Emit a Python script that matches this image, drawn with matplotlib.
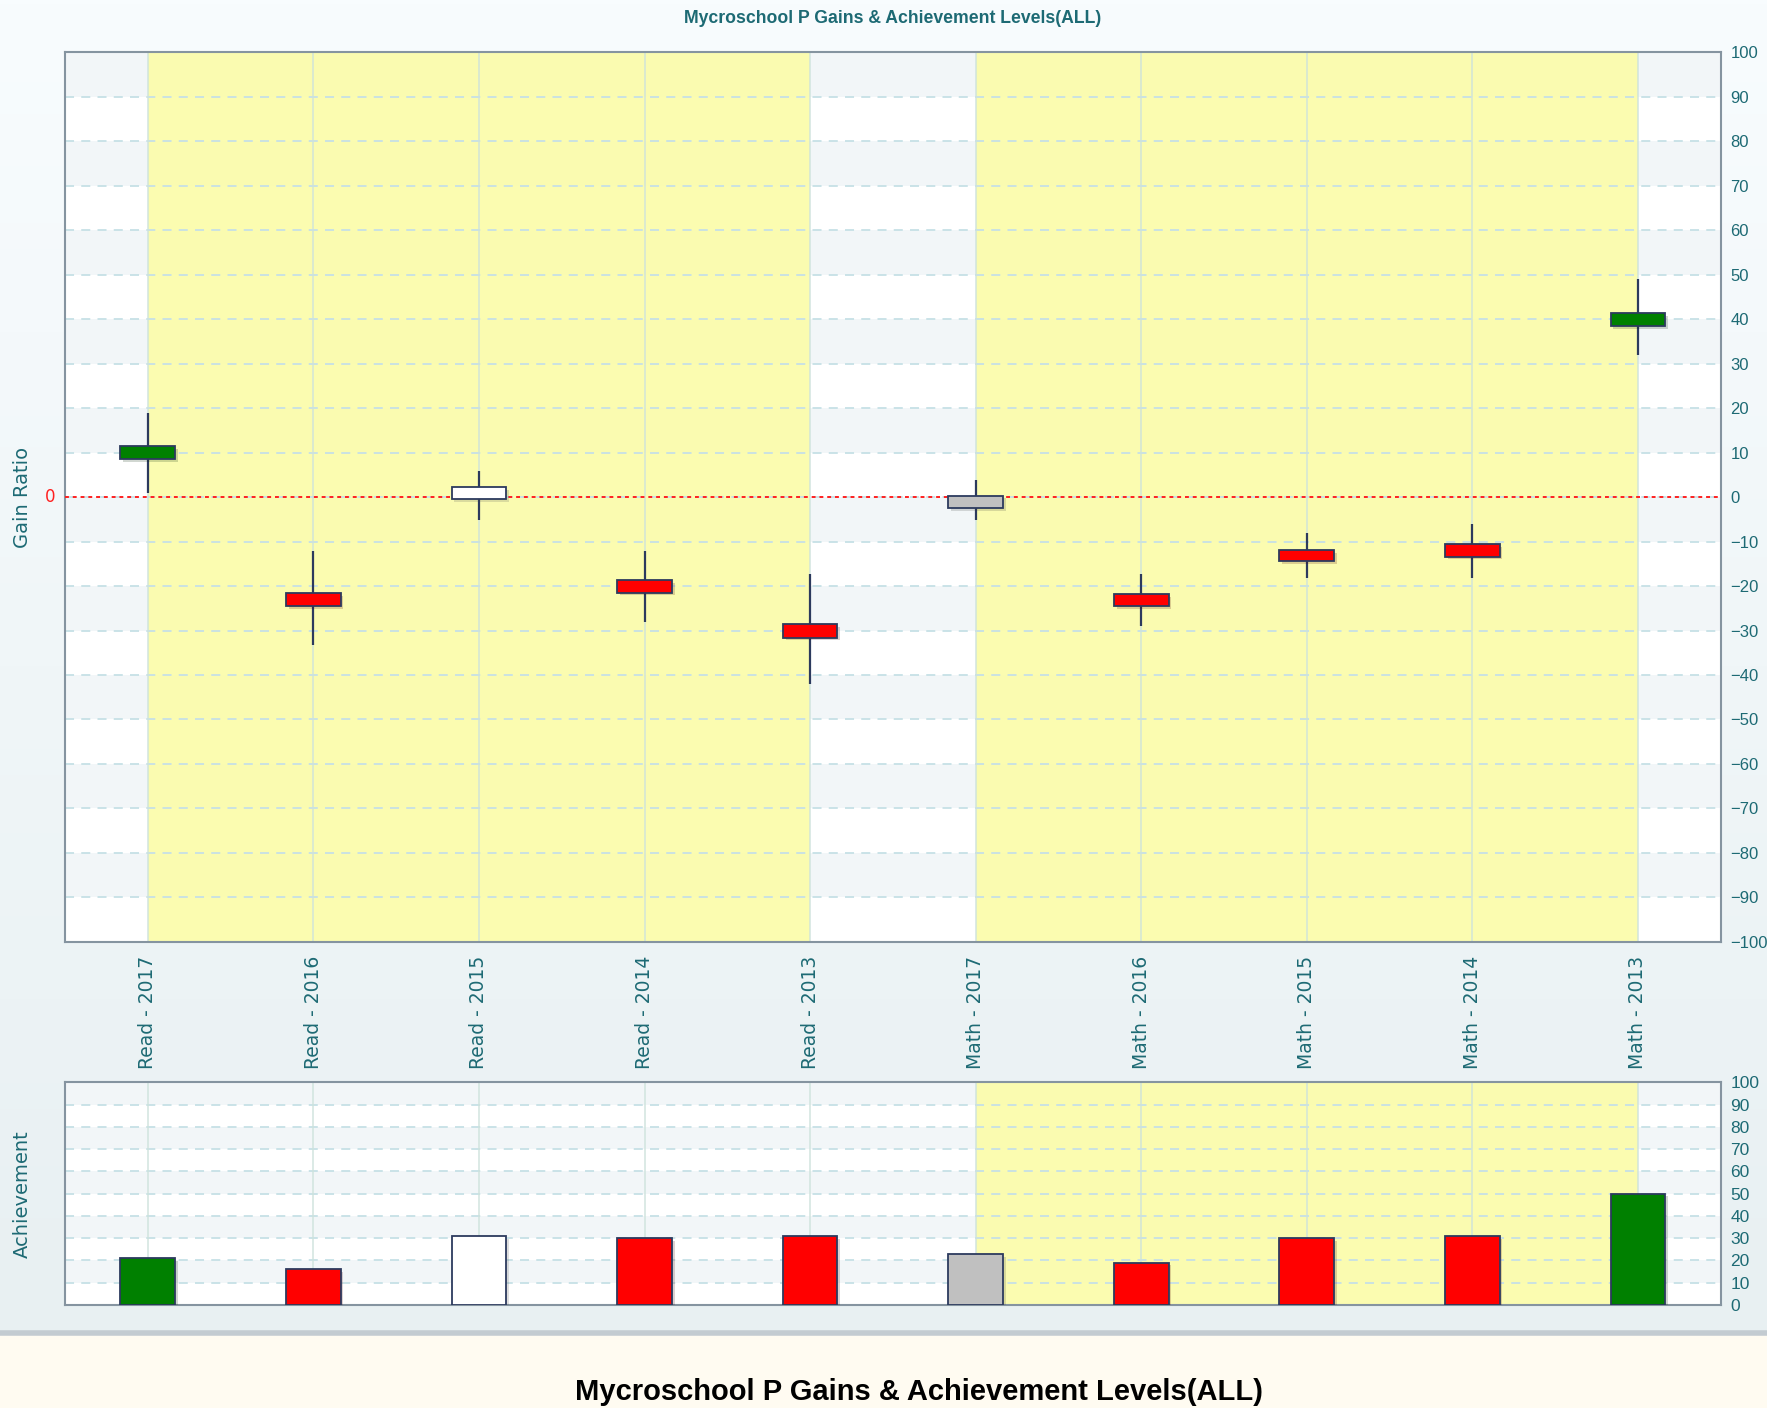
import numpy as np
import matplotlib
matplotlib.use("Agg")
import matplotlib.pyplot as plt
import matplotlib.patheffects as pe

# chart values
categories = ["Read - 2017", "Read - 2016", "Read - 2015", "Read - 2014", "Read - 2013",
              "Math - 2017", "Math - 2016", "Math - 2015", "Math - 2014", "Math - 2013"]
box_top = [11.4, -21.6, 2.3, -18.7, -28.6, 0.3, -21.8, -11.9, -10.6, 41.3]
box_bottom = [8.5, -24.6, -0.5, -21.5, -31.6, -2.5, -24.6, -14.4, -13.4, 38.5]
whisker_high = [18.9, -12.2, 5.8, -12.2, -17.2, 3.8, -17.2, -8.1, -6.1, 48.9]
whisker_low = [0.9, -33.2, -5.1, -28.1, -42.0, -5.1, -29.0, -18.2, -18.2, 31.9]
achievement = [21, 16, 31, 30, 31, 23, 19, 30, 31, 50]
status_colors = ["#008000", "#ff0000", "#ffffff", "#ff0000", "#ff0000",
                 "#c0c0c0", "#ff0000", "#ff0000", "#ff0000", "#008000"]
title = "Mycroschool P Gains & Achievement Levels(ALL)"

TEAL = "#1d6a74"
EDGE = "#2c3a5e"
YELLOW = "#fbfca8"
GRID = "#c6e0e6"

W, H = 1767, 1408
fig = plt.figure(figsize=(W / 100, H / 100), dpi=100)

# page background: light gradient on top, cream strip at bottom
bg = fig.add_axes([0, 0.053, 1, 0.947], zorder=-10)
grad = np.linspace(0, 1, 256).reshape(-1, 1)
top_c = np.array([248, 252, 254]) / 255
bot_c = np.array([232, 240, 242]) / 255
img = top_c[None, None, :] * (1 - grad[:, :, None]) + bot_c[None, None, :] * grad[:, :, None]
bg.imshow(img, aspect="auto", extent=[0, 1, 0, 1])
bg.axis("off")
cream = fig.add_axes([0, 0, 1, 0.053], zorder=-10)
cream.set_facecolor("#fffbf1")
cream.set_xticks([])
cream.set_yticks([])
for s in cream.spines.values():
    s.set_visible(False)
cream.axhline(1, color="#c3cbd1", lw=4, clip_on=False)

x = np.arange(len(categories))
shadow = [pe.SimplePatchShadow(offset=(2, -2), alpha=0.18), pe.Normal()]


def style_axis(ax, ymin, ymax, step, fsize):
    ax.set_xlim(-0.5, len(categories) - 0.5)
    ax.set_ylim(ymin, ymax)
    ax.set_facecolor("white")
    # alternating row bands
    for lo in range(ymin, ymax, step):
        if ((ymax - lo) // step) % 2 == 1:
            ax.axhspan(lo, lo + step, color="#f2f6f8", lw=0, zorder=0)
    for lo in range(ymin + step, ymax, step):
        ax.axhline(lo, color=GRID, lw=1.3, ls=(0, (5, 4)), zorder=2)
    for xi in x:
        ax.axvline(xi, color="#cde2dc", lw=1.1, zorder=2, alpha=0.9)
    ax.yaxis.tick_right()
    ax.set_yticks(range(ymin, ymax + 1, step))
    ax.tick_params(axis="y", length=0, pad=7, labelcolor=TEAL)
    for lab in ax.get_yticklabels():
        lab.set_fontfamily("Liberation Sans")
        lab.set_fontsize(fsize)
    for s in ax.spines.values():
        s.set_color("#8594a0")
        s.set_linewidth(1.5)


# gain ratio chart
ax = fig.add_axes([0.0368, 0.331, 0.937, 0.632])
style_axis(ax, -100, 100, 10, 12)
ax.axvspan(0, 4, color=YELLOW, alpha=0.9, lw=0, zorder=1)
ax.axvspan(5, 9, color=YELLOW, alpha=0.9, lw=0, zorder=1)
ax.axhline(0, color="#ff2020", lw=1.4, ls=(0, (2, 2)), zorder=3)
ax.vlines(x, whisker_low, whisker_high, color=EDGE, lw=1.6, zorder=4)
heights = np.array(box_top) - np.array(box_bottom)
bars = ax.bar(x, heights, bottom=box_bottom, width=0.33, color=status_colors,
              edgecolor=EDGE, lw=1.3, zorder=5)
for b in bars:
    b.set_path_effects(shadow)
ax.set_xticks(x)
ax.set_xticklabels(categories, rotation=90, color=TEAL, fontsize=13.5, va="top")
ax.tick_params(axis="x", length=0, pad=10)
ax.text(-0.56, 0, "0", color="#ff2020", fontsize=12, ha="right", va="center",
        transform=ax.transData)
fig.text(0.0127, 0.331 + 0.632 / 2, "Gain Ratio", rotation=90, color=TEAL,
         fontsize=14, ha="center", va="center")

# achievement chart
ax2 = fig.add_axes([0.0368, 0.0732, 0.937, 0.158])
style_axis(ax2, 0, 100, 10, 12.5)
ax2.axvspan(5, 9, color=YELLOW, alpha=0.9, lw=0, zorder=1)
bars2 = ax2.bar(x, achievement, width=0.33, color=status_colors, edgecolor=EDGE,
                lw=1.3, zorder=5)
for b in bars2:
    b.set_path_effects(shadow)
ax2.set_xticks([])
fig.text(0.0127, 0.0732 + 0.158 / 2, "Achievement", rotation=90, color=TEAL,
         fontsize=14, ha="center", va="center")

# titles
fig.text(0.505, 0.987, title, color=TEAL, fontsize=12.7, fontweight="bold",
         family="Liberation Sans", ha="center", va="center")
fig.text(0.52, 0.0114, title, color="black", fontsize=21, fontweight="bold",
         family="Liberation Sans", ha="center", va="center")

fig.savefig("out.png", dpi=100)
